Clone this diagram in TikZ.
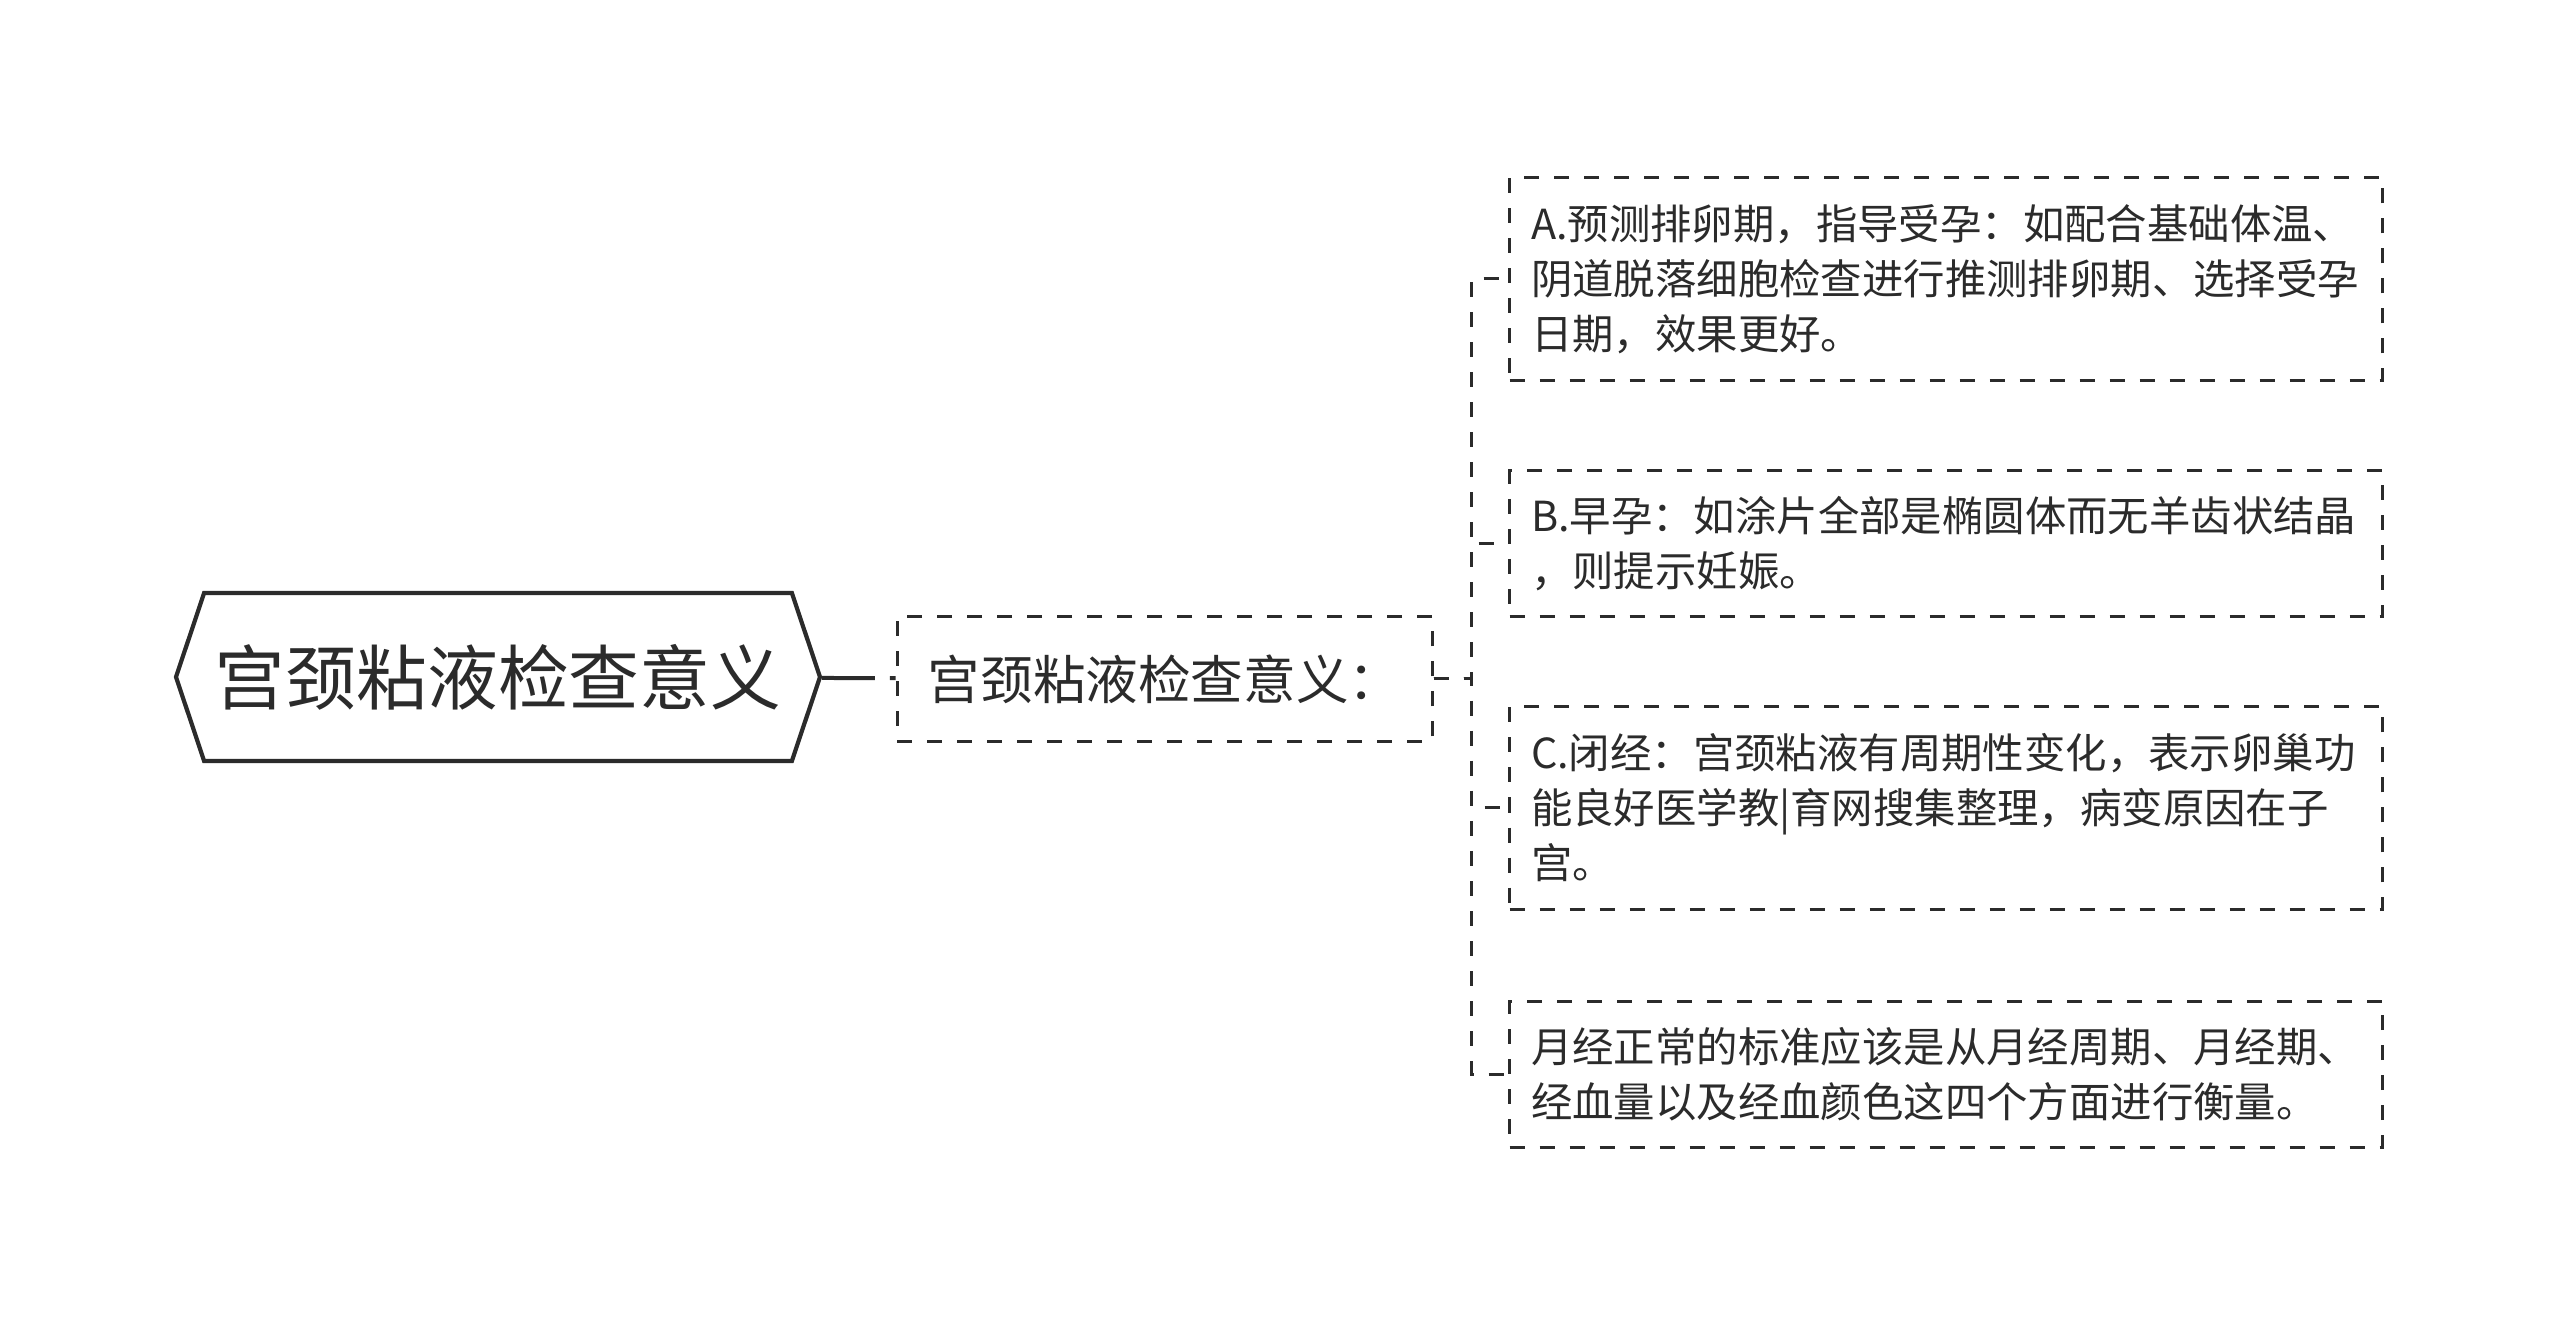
\documentclass[tikz,border=0pt]{standalone}
\usepackage{fontspec}
\setmainfont{Noto Sans CJK SC}
\usetikzlibrary{shapes.symbols}
\definecolor{ink}{HTML}{2B2B2B}
\tikzset{
  hexbox/.style={shape=signal, signal to=west and east, signal pointer angle=143,
    draw=ink, line width=2.1pt, fill=white, text=ink, inner sep=0pt,
    minimum width=322pt, minimum height=84pt, font=\fontsize{35.4pt}{40pt}\selectfont},
  midbox/.style={draw=ink, line width=1.5pt, dash pattern=on 7.5pt off 7.5pt, text=ink,
    inner sep=0pt, minimum width=267.5pt, minimum height=62.5pt, font=\fontsize{26.3pt}{30pt}\selectfont},
  leafbox/.style={draw=ink, line width=1.5pt, dash pattern=on 7.5pt off 7.5pt, text=ink,
    anchor=west, align=left, inner xsep=10.75pt, inner ysep=0pt, text width=415pt,
    font=\fontsize{20.7pt}{27.5pt}\selectfont},
  trunk/.style={draw=ink, line width=2pt, dash pattern=on 26.5pt off 7.5pt on 5pt off 5pt},
  branch/.style={draw=ink, line width=1.5pt, dash pattern=on 7.5pt off 7.5pt,
    to path={-- ++(19pt,0) |- (\tikztotarget)}}
}
\begin{document}
\begin{tikzpicture}[x=0.5pt, y=-0.5pt]
  \useasboundingbox (0,0) rectangle (2560,1325);

  \node[hexbox] (root) at (498,677) {宫颈粘液检查意义};
  \node[midbox] (sub) at (1164.5,679) {宫颈粘液检查意义：};

  \node[leafbox, minimum height=101.5pt] (a) at (1508,279)
    {A.预测排卵期，指导受孕：如配合基础体温、\\阴道脱落细胞检查进行推测排卵期、选择受孕\\日期，效果更好。};
  \node[leafbox, minimum height=73pt] (b) at (1508,544)
    {B.早孕：如涂片全部是椭圆体而无羊齿状结晶\\，则提示妊娠。};
  \node[leafbox, minimum height=101.5pt] (c) at (1508,808)
    {C.闭经：宫颈粘液有周期性变化，表示卵巢功\\能良好医学教|育网搜集整理，病变原因在子\\宫。};
  \node[leafbox, minimum height=73pt] (d) at (1508,1074)
    {月经正常的标准应该是从月经周期、月经期、\\经血量以及经血颜色这四个方面进行衡量。};

  \draw[trunk] (root) -- (sub);
  \draw
    (sub.east) edge[branch] (a.west)
    (sub.east) edge[branch] (b.west)
    (sub.east) edge[branch] (c.west)
    (sub.east) edge[branch] (d.west);
\end{tikzpicture}
\end{document}
